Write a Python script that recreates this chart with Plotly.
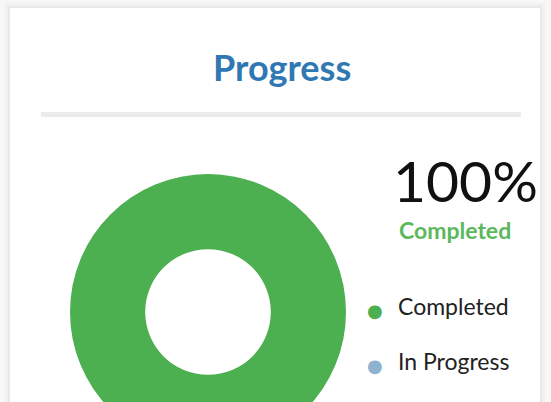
import plotly.graph_objects as go

# ---- data ----
categories = ["Completed", "In Progress"]
values = [100, 0]
colors = ["#4caf50", "#8db3d1"]
title_text = "Progress"
summary_label = "Completed"

W, H = 551, 470  # page shows only top 402 px, donut is cut by the card edge


def px(x):
    return x / W


def py(y):
    return 1 - y / H


total = sum(values)
pct = round(100 * values[0] / total)

# donut geometry (pixels)
cx, cy, r = 208, 312, 138

fig = go.Figure()
fig.add_trace(go.Pie(
    labels=categories,
    values=values,
    hole=0.455,
    sort=False,
    direction="clockwise",
    marker=dict(colors=colors, line=dict(width=0)),
    textinfo="none",
    hoverinfo="label+percent",
    showlegend=False,
    domain=dict(x=[px(cx - r), px(cx + r)], y=[py(cy + r), py(cy - r)]),
))

shapes = [
    # soft shadow around card
    dict(type="rect", xref="paper", yref="paper", x0=px(5), x1=px(545), y0=py(H + 10), y1=py(3),
         fillcolor="#f1f1f1", line=dict(width=0), layer="below"),
    dict(type="rect", xref="paper", yref="paper", x0=px(8), x1=px(542), y0=py(H + 10), y1=py(6),
         fillcolor="#e8e8e8", line=dict(width=0), layer="below"),
    # card
    dict(type="rect", xref="paper", yref="paper", x0=px(10), x1=px(540), y0=py(H + 10), y1=py(8),
         fillcolor="white", line=dict(width=0), layer="below"),
    # separator
    dict(type="rect", xref="paper", yref="paper", x0=px(41), x1=px(521), y0=py(117), y1=py(112),
         fillcolor="#ebebeb", line=dict(width=0), layer="below"),
]

annotations = [
    dict(text="<b>%s</b>" % title_text, x=px(282), y=py(67), xref="paper", yref="paper",
         showarrow=False, font=dict(family="Lato", size=36, color="#2f78b3"),
         xanchor="center", yanchor="middle"),
    dict(text="%d%%" % pct, x=px(465), y=py(180), xref="paper", yref="paper",
         showarrow=False, font=dict(family="Lato", size=57, color="#111111"),
         xanchor="center", yanchor="middle", borderpad=0),
    dict(text="<b>%s</b>" % summary_label, x=px(455), y=py(229.5), xref="paper", yref="paper",
         showarrow=False, font=dict(family="Lato", size=23, color="#5cb85c"),
         xanchor="center", yanchor="middle", borderpad=0),
]

legend_y = [306, 361]
for i, (lab, col) in enumerate(zip(categories, colors)):
    annotations.append(dict(text="●", x=px(375), y=py(legend_y[i] + 4), xref="paper", yref="paper",
                            showarrow=False, font=dict(family="DejaVu Sans", size=18, color=col),
                            xanchor="center", yanchor="middle"))
    annotations.append(dict(text=lab, x=px(396), y=py(legend_y[i]), xref="paper", yref="paper",
                            showarrow=False, font=dict(family="Lato", size=23, color="#222222"),
                            xanchor="left", yanchor="middle"))

fig.update_layout(
    width=W, height=H,
    margin=dict(l=0, r=0, t=0, b=0),
    paper_bgcolor="#f7f7f7",
    plot_bgcolor="#f7f7f7",
    shapes=shapes,
    annotations=annotations,
    showlegend=False,
    xaxis=dict(visible=False),
    yaxis=dict(visible=False),
)

fig.write_html(
    "out.html",
    config={"displayModeBar": False},
    post_script="document.body.style.margin='0';document.body.style.overflow='hidden';"
                "document.documentElement.style.overflow='hidden';",
)
